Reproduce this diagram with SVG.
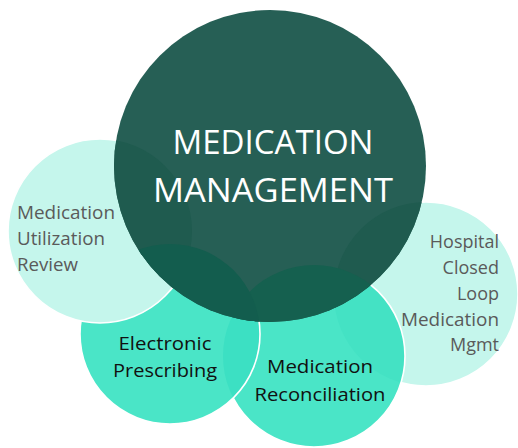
<svg xmlns="http://www.w3.org/2000/svg" width="518" height="448" viewBox="0 0 518 448">
<defs>
<style>
.light{fill:#c5f6ec;}
.teal{fill:#4ae5c7;}
.edge{fill:none;stroke:#ffffff;stroke-width:1.6;}
.lbl{font-family:"Open Sans","Liberation Sans",sans-serif;font-size:18px;}
.grey{fill:#5a5a5a;}
.dark{fill:#111111;}
.title{font-family:"Open Sans","Liberation Sans",sans-serif;font-size:33px;fill:#ffffff;text-anchor:middle;}
</style>
<clipPath id="clipBig"><circle cx="270" cy="166" r="156"/></clipPath>
<clipPath id="clipEP"><circle cx="170" cy="334" r="90"/></clipPath>
<clipPath id="clipRec"><circle cx="314" cy="356" r="91"/></clipPath>
</defs>
<rect width="518" height="448" fill="#ffffff"/>

<g id="hospital">
<circle class="light" cx="426" cy="294" r="92"/>
<circle class="edge" cx="426" cy="294" r="92"/>
<g class="lbl grey" text-anchor="end">
<text x="499" y="248">Hospital</text>
<text x="499" y="274">Closed</text>
<text x="499" y="300">Loop</text>
<text x="499" y="326" textLength="98" lengthAdjust="spacingAndGlyphs">Medication</text>
<text x="499" y="351">Mgmt</text>
</g>
</g>

<g id="reconciliation">
<circle class="teal" cx="314" cy="356" r="91"/>
<circle cx="426" cy="294" r="92" fill="#44e2c4" clip-path="url(#clipRec)"/>
<circle class="edge" cx="314" cy="356" r="91"/>
</g>

<g id="prescribing">
<circle class="teal" cx="170" cy="334" r="90"/>
<circle cx="314" cy="356" r="91" fill="#3ce0c3" clip-path="url(#clipEP)"/>
<circle class="edge" cx="170" cy="334" r="90"/>
</g>

<g id="utilization">
<circle class="light" cx="100" cy="231" r="92"/>
<circle class="edge" cx="100" cy="231" r="92"/>
<g class="lbl grey">
<text x="17" y="219" textLength="98" lengthAdjust="spacingAndGlyphs">Medication</text>
<text x="17" y="245" textLength="88" lengthAdjust="spacingAndGlyphs">Utilization</text>
<text x="17" y="271" textLength="61" lengthAdjust="spacingAndGlyphs">Review</text>
</g>
</g>

<g id="management">
<circle cx="270" cy="166" r="156" fill="#265f55"/>
<g clip-path="url(#clipBig)">
<circle cx="100" cy="231" r="92" fill="#1f5b4f"/>
<circle cx="426" cy="294" r="92" fill="#1f5b4f"/>
<circle cx="314" cy="356" r="91" fill="#15604f"/>
<circle cx="170" cy="334" r="90" fill="#135d4e"/>
</g>
<text class="title" x="273" y="154" textLength="201" lengthAdjust="spacingAndGlyphs">MEDICATION</text>
<text class="title" x="273" y="202" textLength="240" lengthAdjust="spacingAndGlyphs">MANAGEMENT</text>
</g>

<g id="prescribing-label" class="lbl dark" text-anchor="middle">
<text x="165" y="350" textLength="93" lengthAdjust="spacingAndGlyphs">Electronic</text>
<text x="165" y="377" textLength="104" lengthAdjust="spacingAndGlyphs">Prescribing</text>
</g>
<g id="reconciliation-label" class="lbl dark" text-anchor="middle">
<text x="320" y="373" textLength="106" lengthAdjust="spacingAndGlyphs">Medication</text>
<text x="320" y="401" textLength="131" lengthAdjust="spacingAndGlyphs">Reconciliation</text>
</g>
</svg>
